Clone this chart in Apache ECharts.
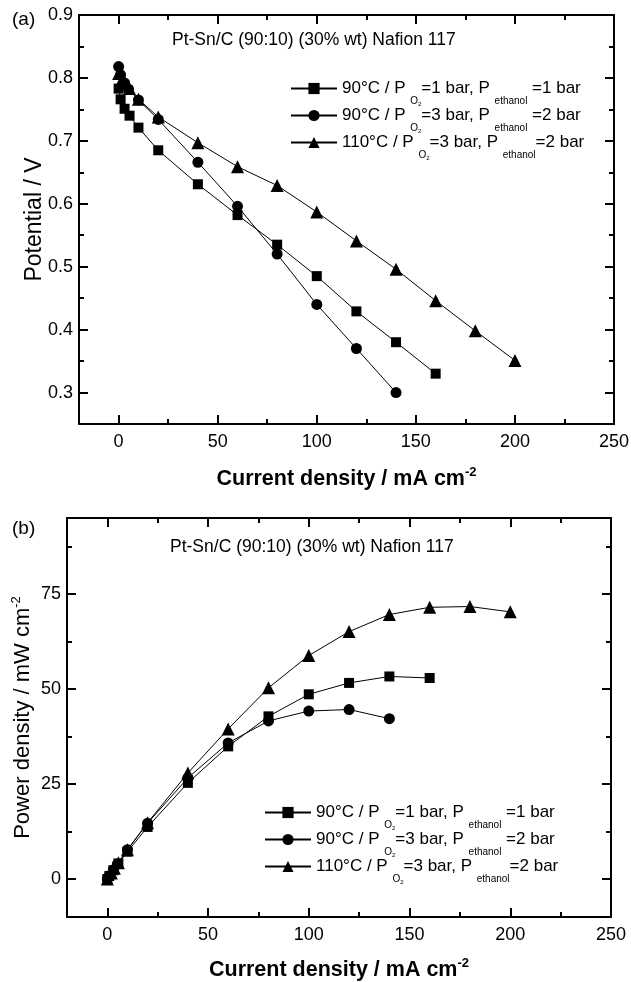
<!DOCTYPE html>
<html>
<head>
<meta charset="utf-8">
<title>Pt-Sn/C (90:10) Nafion 117</title>
<script src="https://cdn.jsdelivr.net/npm/echarts@6/dist/echarts.min.js"></script>
<style>
html, body { margin: 0; padding: 0; background: #fff; }
#chart { width: 631px; height: 982px; }
</style>
</head>
<body>
<div id="chart"></div>
<script>
// current density (mA cm-2) and cell potential (V), panel (a)
var jSq = [0, 1, 3, 5.5, 10, 20, 40, 60, 80, 100, 120, 140, 160];
var vSq = [0.783, 0.766, 0.751, 0.740, 0.721, 0.685, 0.631, 0.582, 0.535, 0.485, 0.429, 0.380, 0.330];
var jCi = [0, 1, 3, 5, 10, 20, 40, 60, 80, 100, 120, 140];
var vCi = [0.818, 0.805, 0.792, 0.782, 0.765, 0.734, 0.666, 0.596, 0.520, 0.440, 0.370, 0.300];
var jTr = [0, 2, 3.5, 5.5, 10, 20, 40, 60, 80, 100, 120, 140, 160, 180, 200];
var vTr = [0.807, 0.799, 0.791, 0.783, 0.766, 0.738, 0.697, 0.659, 0.629, 0.587, 0.541, 0.496, 0.446, 0.398, 0.351];

// power density (mW cm-2), panel (b), same current densities
var pSq = [0, 0.8, 2.3, 4.1, 7.2, 13.7, 25.3, 34.9, 42.8, 48.6, 51.6, 53.3, 52.9];
var pCi = [0, 0.8, 2.4, 3.9, 7.7, 14.7, 26.6, 35.8, 41.6, 44.2, 44.6, 42.2];
var pTr = [0, 1.6, 2.8, 4.3, 7.7, 14.8, 27.9, 39.5, 50.3, 58.8, 65.1, 69.6, 71.5, 71.7, 70.3];

// ticks
var jTicks = [0, 50, 100, 150, 200, 250];
var jMinor = [25, 75, 125, 175, 225];
var vTicks = [0.3, 0.4, 0.5, 0.6, 0.7, 0.8, 0.9];
var vMinor = [0.35, 0.45, 0.55, 0.65, 0.75, 0.85];
var pTicks = [0, 25, 50, 75];
var pMinor = [12.5, 37.5, 62.5, 87.5];

var FONT = "'Liberation Sans', Arial, sans-serif";

var legendNames = {
    a1: '{m|90°C / P }{s|O}{t|2}{m|=1 bar, P }{s|ethanol}{m| =1 bar}',
    a2: '{m|90°C / P }{s|O}{t|2}{m|=3 bar, P }{s|ethanol}{m| =2 bar}',
    a3: '{m|110°C / P }{s|O}{t|2}{m|=3 bar, P }{s|ethanol}{m|=2 bar}'
};
legendNames.b1 = legendNames.a1;
legendNames.b2 = legendNames.a2;
legendNames.b3 = legendNames.a3;

var legendRich = {
    m: { fontFamily: FONT, fontSize: 17, color: '#000', lineHeight: 17, verticalAlign: 'middle' },
    s: { fontFamily: FONT, fontSize: 10, color: '#000', lineHeight: 9, padding: [16, 0, 0, 0], verticalAlign: 'top' },
    t: { fontFamily: FONT, fontSize: 6, color: '#000', lineHeight: 5, padding: [21, 0, 0, 0], verticalAlign: 'top' }
};

var nameRich = {
    b: { fontFamily: FONT, fontSize: 21.5, fontWeight: 'bold', color: '#000', lineHeight: 28, verticalAlign: 'bottom' },
    supb: { fontFamily: FONT, fontSize: 13, fontWeight: 'bold', color: '#000', lineHeight: 12, padding: [4, 0, 0, 0], verticalAlign: 'top' },
    r: { fontFamily: FONT, fontSize: 23, color: '#000', lineHeight: 28, verticalAlign: 'bottom' },
    r2: { fontFamily: FONT, fontSize: 22, color: '#000', lineHeight: 28, verticalAlign: 'bottom' },
    sup: { fontFamily: FONT, fontSize: 13, color: '#000', lineHeight: 12, padding: [4, 0, 0, 0], verticalAlign: 'top' }
};

// one axis = major ticks (+labels) and a twin for the minor ticks
function axes(grid, pos, min, max, major, minor, opts) {
    opts = opts || {};
    var main = {
        type: 'value', gridIndex: grid, position: pos, min: min, max: max,
        splitLine: { show: false },
        axisLine: { show: true, onZero: false, lineStyle: { color: '#000', width: 2 } },
        axisTick: { show: true, inside: true, length: 9, customValues: major, lineStyle: { color: '#000', width: 2 } },
        axisLabel: {
            show: !!opts.label, customValues: major, margin: opts.margin || 6,
            color: '#000', fontFamily: FONT, fontSize: 18, formatter: opts.fmt
        }
    };
    if (opts.name) {
        main.name = opts.name;
        main.nameLocation = 'middle';
        main.nameGap = opts.nameGap;
        main.nameMoveOverlap = opts.move !== false;
        main.nameTextStyle = { rich: nameRich };
    }
    var sub = {
        type: 'value', gridIndex: grid, position: pos, min: min, max: max,
        splitLine: { show: false },
        axisLine: { show: false, onZero: false },
        axisTick: { show: true, inside: true, length: 5, customValues: minor, lineStyle: { color: '#000', width: 2 } },
        axisLabel: { show: false }
    };
    return [main, sub];
}

var xAxes = [].concat(
    axes(0, 'bottom', -20, 250, jTicks, jMinor, { label: true, margin: 9, name: '{b|Current density / mA cm}{supb|-2}', nameGap: 38 }),
    axes(0, 'top', -20, 250, jTicks, jMinor),
    axes(1, 'bottom', -20, 250, jTicks, jMinor, { label: true, margin: 9, name: '{b|Current density / mA cm}{supb|-2}', nameGap: 36 }),
    axes(1, 'top', -20, 250, jTicks, jMinor)
);
var yAxes = [].concat(
    axes(0, 'left', 0.25, 0.9, vTicks, vMinor, { label: true, fmt: function (v) { return v.toFixed(1); }, name: '{r|Potential / V}', nameGap: 33, move: false }),
    axes(0, 'right', 0.25, 0.9, vTicks, vMinor),
    axes(1, 'left', -10, 95, pTicks, pMinor, { label: true, name: '{r2|Power density / mW cm}{sup|-2}', nameGap: 33, move: false }),
    axes(1, 'right', -10, 95, pTicks, pMinor)
);

function pairs(xs, ys) {
    return xs.map(function (x, i) { return [x, ys[i]]; });
}

function line(name, grid, symbol, size, xs, ys) {
    return {
        name: name, type: 'line',
        xAxisIndex: grid * 4, yAxisIndex: grid * 4,
        data: pairs(xs, ys),
        symbol: symbol, symbolSize: size, showSymbol: true,
        lineStyle: { color: '#000', width: 1 },
        itemStyle: { color: '#000' },
        emphasis: { disabled: true },
        z: 5
    };
}

function legend(names, left, top) {
    return {
        data: names, orient: 'vertical', left: left, top: top, padding: 0,
        itemWidth: 46, itemHeight: 14, itemGap: 0, selectedMode: false,
        formatter: function (n) { return legendNames[n]; },
        textStyle: { color: '#000', fontFamily: FONT, fontSize: 17, rich: legendRich }
    };
}

var chart = echarts.init(document.getElementById('chart'));

var option = {
    animation: false,
    backgroundColor: '#fff',
    textStyle: { fontFamily: FONT },
    grid: [
        { left: 79, top: 15, width: 535, height: 409, outerBoundsMode: 'none' },
        { left: 67, top: 518, width: 544, height: 399, outerBoundsMode: 'none' }
    ],
    xAxis: xAxes,
    yAxis: yAxes,
    legend: [
        legend(['a1', 'a2', 'a3'], 290, 80),
        legend(['b1', 'b2', 'b3'], 264, 804)
    ],
    graphic: [
        { type: 'text', left: 12, top: 10, style: { text: '(a)', fontFamily: FONT, fontSize: 19, fill: '#000' } },
        { type: 'text', left: 12, top: 519, style: { text: '(b)', fontFamily: FONT, fontSize: 19, fill: '#000' } },
        { type: 'text', left: 172, top: 31, style: { text: 'Pt-Sn/C (90:10) (30% wt) Nafion 117', fontFamily: FONT, fontSize: 17.5, fill: '#000' } },
        { type: 'text', left: 170, top: 538, style: { text: 'Pt-Sn/C (90:10) (30% wt) Nafion 117', fontFamily: FONT, fontSize: 17.5, fill: '#000' } }
    ],
    series: [
        line('a1', 0, 'rect', 10, jSq, vSq),
        line('a2', 0, 'circle', 11, jCi, vCi),
        line('a3', 0, 'triangle', 13, jTr, vTr),
        line('b1', 1, 'rect', 10, jSq, pSq),
        line('b2', 1, 'circle', 11, jCi, pCi),
        line('b3', 1, 'triangle', 13, jTr, pTr)
    ]
};

chart.setOption(option);
</script>
</body>
</html>
